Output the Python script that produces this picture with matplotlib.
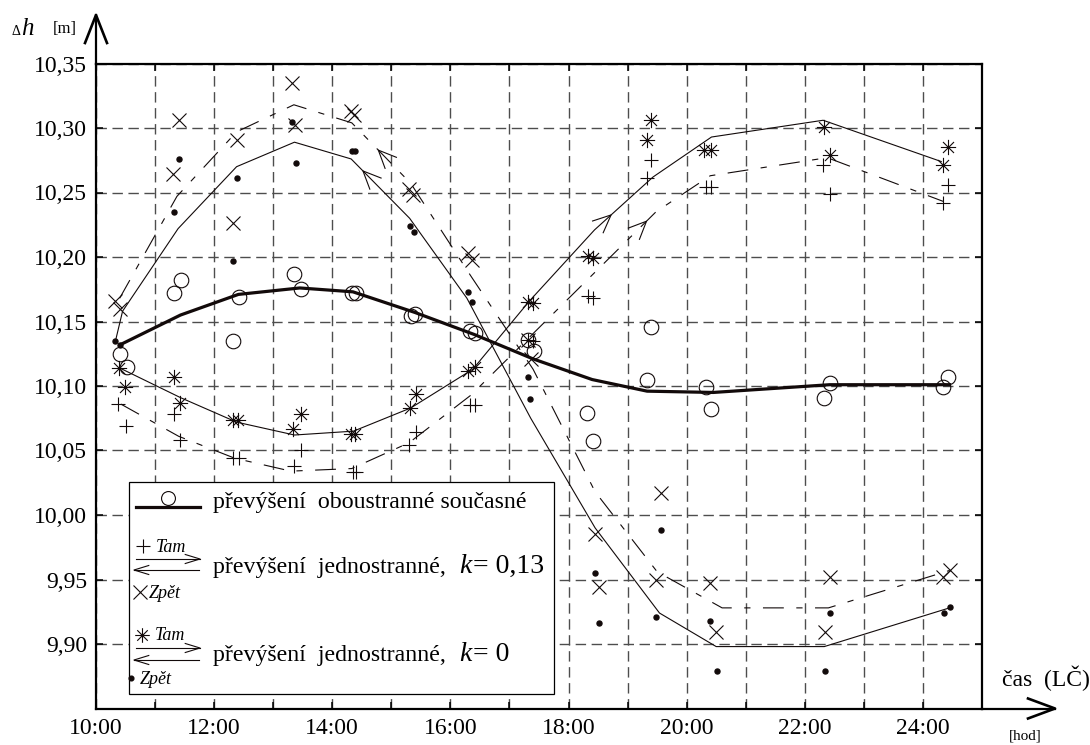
import numpy as np
import matplotlib
matplotlib.use("Agg")
import matplotlib.pyplot as plt
from matplotlib.path import Path
from matplotlib.lines import Line2D
from matplotlib.patches import Rectangle
from matplotlib.transforms import IdentityTransform

plt.rcParams['font.family'] = ['Liberation Serif', 'DejaVu Serif']
plt.rcParams['lines.scale_dashes'] = False

# ---------------- data (time in hours, height difference in m) ----------------
# převýšení oboustranné současné (circles) and its mean line (thick)
circ_t = [10.40, 10.52, 11.32, 11.44, 12.32, 12.42, 13.35, 13.47, 14.33, 14.40,
          15.33, 15.40, 16.33, 16.41, 17.31, 17.41, 18.31, 18.41, 19.32, 19.40,
          20.32, 20.42, 22.32, 22.42, 24.34, 24.42]
circ_v = [10.125, 10.115, 10.172, 10.182, 10.135, 10.169, 10.187, 10.175, 10.172, 10.172,
          10.154, 10.156, 10.143, 10.141, 10.136, 10.127, 10.079, 10.057, 10.105, 10.146,
          10.099, 10.082, 10.091, 10.102, 10.099, 10.107]
mean_t = [10.41, 11.43, 12.41, 13.45, 14.35, 15.40, 16.40, 17.40, 18.40, 19.33, 20.45, 22.42, 24.45]
mean_v = [10.132, 10.155, 10.171, 10.176, 10.173, 10.157, 10.140, 10.121, 10.105, 10.096, 10.095, 10.101, 10.101]

# k = 0.13, Tam (+) and its line
plus_t = [10.38, 10.51, 11.32, 11.43, 12.32, 12.42, 13.35, 13.47, 14.35, 14.41,
          15.30, 15.41, 16.33, 16.41, 17.31, 17.40, 18.33, 18.41, 19.32, 19.40,
          20.33, 20.42, 22.31, 22.42, 24.34, 24.42]
plus_v = [10.086, 10.069, 10.078, 10.058, 10.044, 10.044, 10.038, 10.050, 10.033, 10.033,
          10.054, 10.064, 10.085, 10.085, 10.136, 10.135, 10.170, 10.168, 10.261, 10.275,
          10.254, 10.254, 10.271, 10.249, 10.242, 10.256]
k013_tam_t = [10.42, 11.40, 12.35, 13.30, 14.33, 15.30, 16.35, 19.48, 20.40, 22.38, 24.35]
k013_tam_v = [10.086, 10.061, 10.044, 10.034, 10.036, 10.056, 10.093, 10.235, 10.263, 10.277, 10.243]

# k = 0.13, Zpět (x) and its line
xm_t = [10.33, 10.40, 11.31, 11.41, 12.32, 12.38, 13.31, 13.37, 14.31, 14.37,
        15.30, 15.36, 16.30, 16.36, 17.31, 17.36, 18.44, 18.51, 19.48, 19.57,
        20.39, 20.50, 22.34, 22.42, 24.34, 24.45]
xm_v = [10.166, 10.160, 10.264, 10.306, 10.226, 10.291, 10.335, 10.302, 10.313, 10.310,
        10.253, 10.248, 10.203, 10.198, 10.136, 10.121, 9.985, 9.944, 9.950, 10.017,
        9.947, 9.909, 9.909, 9.952, 9.952, 9.957]
k013_zpet_t = [10.40, 11.37, 12.38, 13.35, 14.33, 15.33, 16.35, 17.40, 18.45, 19.50, 20.60, 22.40, 24.45]
k013_zpet_v = [10.168, 10.247, 10.297, 10.318, 10.304, 10.257, 10.185, 10.113, 10.018, 9.956, 9.928, 9.928, 9.957]

# k = 0, Tam (asterisk) and its line
ast_t = [10.39, 10.49, 11.32, 11.43, 12.32, 12.41, 13.34, 13.47, 14.32, 14.39,
         15.31, 15.41, 16.30, 16.41, 17.31, 17.40, 18.33, 18.41, 19.32, 19.40,
         20.30, 20.42, 22.33, 22.42, 24.34, 24.42]
ast_v = [10.114, 10.099, 10.107, 10.087, 10.074, 10.074, 10.067, 10.078, 10.063, 10.063,
         10.083, 10.094, 10.112, 10.115, 10.165, 10.164, 10.201, 10.199, 10.291, 10.306,
         10.283, 10.283, 10.301, 10.279, 10.271, 10.285]
k0_tam_t = [10.40, 11.43, 12.38, 13.36, 14.36, 15.33, 16.38, 17.34, 18.44, 19.43, 20.42, 22.31, 24.31]
k0_tam_v = [10.114, 10.091, 10.072, 10.062, 10.065, 10.083, 10.113, 10.166, 10.221, 10.262, 10.293, 10.306, 10.274]

# k = 0, Zpět (dot) and its line
dot_t = [10.32, 10.41, 11.32, 11.41, 12.32, 12.38, 13.32, 13.38, 14.33, 14.38,
         15.32, 15.38, 16.30, 16.37, 17.31, 17.35, 18.44, 18.51, 19.48, 19.57,
         20.39, 20.51, 22.34, 22.42, 24.36, 24.45]
dot_v = [10.135, 10.132, 10.235, 10.276, 10.197, 10.261, 10.305, 10.273, 10.282, 10.282,
         10.224, 10.219, 10.173, 10.165, 10.107, 10.090, 9.955, 9.916, 9.921, 9.988,
         9.918, 9.879, 9.879, 9.924, 9.924, 9.929]
k0_zpet_t = [10.33, 10.45, 11.39, 12.38, 13.36, 14.32, 15.31, 16.28, 17.36, 18.45, 19.54, 20.50, 22.33, 24.45]
k0_zpet_v = [10.135, 10.158, 10.222, 10.270, 10.289, 10.276, 10.230, 10.168, 10.075, 9.990, 9.924, 9.898, 9.898, 9.928]

# direction arrows on the lines: (tip time, direction)
arrow_k0_tam = (18.72, 1)
arrow_k013_tam = (19.32, 1)
arrow_k0_zpet = (14.52, -1)
arrow_k013_zpet = (14.78, -1)

xtick_pos = [10, 12, 14, 16, 18, 20, 22, 24]
xtick_lab = ['10:00', '12:00', '14:00', '16:00', '18:00', '20:00', '22:00', '24:00']
xgrid_pos = list(range(10, 26))
ytick_pos = [9.90, 9.95, 10.00, 10.05, 10.10, 10.15, 10.20, 10.25, 10.30, 10.35]
ytick_lab = ['9,90', '9,95', '10,00', '10,05', '10,10', '10,15', '10,20', '10,25', '10,30', '10,35']

# ---------------- figure ----------------
W, H = 1090, 745
fig = plt.figure(figsize=(W / 100, H / 100), dpi=100)
fig.patch.set_facecolor('white')


def fx(px):
    return px / W


def fy(py):
    return 1 - py / H


ax = fig.add_axes([fx(96), fy(708.5), 886 / W, 645 / H])
ax.set_xlim(10, 25)
ax.set_ylim(9.85, 10.35)

ax.set_xticks(xtick_pos)
ax.set_xticklabels(xtick_lab)
ax.set_xticks(xgrid_pos, minor=True)
ax.set_yticks(ytick_pos)
ax.set_yticklabels(ytick_lab)

grid_kw = dict(color='#4d4d4d', lw=1.0, ls=(0, (7.5, 4)))
ax.grid(True, which='both', axis='x', **grid_kw)
ax.grid(True, which='major', axis='y', **grid_kw)
ax.set_axisbelow(True)
ax.tick_params(which='both', direction='in', length=5, width=1.1, top=True, right=True,
               labelsize=17, pad=6.5, colors='black')
for s in ax.spines.values():
    s.set_linewidth(1.6)
    s.set_color('black')

INK = '#120a0a'
thin = 0.8
dash = (0, (15, 9, 4.5, 9))

ax.plot(k0_tam_t, k0_tam_v, color=INK, lw=thin, zorder=2)
ax.plot(k0_zpet_t, k0_zpet_v, color=INK, lw=thin, zorder=2)
ax.plot(k013_tam_t, k013_tam_v, color=INK, lw=thin, ls=dash, zorder=2)
ax.plot(k013_zpet_t, k013_zpet_v, color=INK, lw=thin, ls=dash, zorder=2)
ax.plot(mean_t, mean_v, color=INK, lw=2.3, zorder=3, solid_joinstyle='round')

ast_path = Path([(0, -1), (0, 1), (-0.72, -0.72), (0.72, 0.72), (-0.72, 0.72), (0.72, -0.72),
                 (-1, 0), (1, 0)],
                [Path.MOVETO, Path.LINETO] * 4)

mk = dict(ls='none', color=INK, mfc='none', mec=INK, mew=0.8, zorder=4)
ax.plot(circ_t, circ_v, marker='o', ms=10.5, **mk)
ax.plot(plus_t, plus_v, marker='+', ms=10.5, **mk)
ax.plot(xm_t, xm_v, marker='x', ms=10.5, **mk)
ax.plot(ast_t, ast_v, marker=ast_path, ms=11.0, **mk)
ax.plot(dot_t, dot_v, ls='none', marker='o', ms=3.6, mfc=INK, mec=INK, zorder=4)


def chevron_px(tip, direction, length, half_angle, lw=0.8, z=4):
    """draw open arrow head at tip (display px), pointing along direction"""
    d = np.asarray(direction, float)
    d = d / np.hypot(*d)
    back = -d
    pts = []
    for s in (1, -1):
        a = np.deg2rad(s * half_angle)
        r = np.array([back[0] * np.cos(a) - back[1] * np.sin(a),
                      back[0] * np.sin(a) + back[1] * np.cos(a)])
        pts.append(np.asarray(tip) + length * r)
    fig.add_artist(Line2D([pts[0][0], tip[0], pts[1][0]], [pts[0][1], tip[1], pts[1][1]],
                          transform=IdentityTransform(), color=INK, lw=lw, zorder=z,
                          solid_capstyle='butt'))


def line_arrow(tt, vv, spec):
    t, sgn = spec
    y = np.interp(t, tt, vv)
    t0 = t - 0.08 * sgn
    y0 = np.interp(t0, tt, vv)
    p1 = ax.transData.transform((t, y))
    p0 = ax.transData.transform((t0, y0))
    chevron_px(p1, p1 - p0, 20, 24)


line_arrow(k0_tam_t, k0_tam_v, arrow_k0_tam)
line_arrow(k013_tam_t, k013_tam_v, arrow_k013_tam)
line_arrow(k0_zpet_t, k0_zpet_v, arrow_k0_zpet)
line_arrow(k013_zpet_t, k013_zpet_v, arrow_k013_zpet)

# ---------------- axis arrows and labels ----------------
def P(px, py):
    return np.array([px, H - py], float)

# y axis extension + arrow head
fig.add_artist(Line2D([96, 96], [H - 63.5, H - 15], transform=IdentityTransform(), color='k', lw=1.6))
fig.add_artist(Line2D([85, 96, 107], [H - 43, H - 15, H - 43], transform=IdentityTransform(),
                      color='k', lw=1.9))
# x axis extension + arrow head
fig.add_artist(Line2D([982, 1055], [H - 708.5, H - 708.5], transform=IdentityTransform(), color='k', lw=1.6))
fig.add_artist(Line2D([1028, 1055, 1028], [H - 698.5, H - 708.5, H - 718.5], transform=IdentityTransform(),
                      color='k', lw=1.9))

fig.text(fx(12), fy(35), 'Δ', fontsize=10, va='baseline', ha='left')
fig.text(fx(21), fy(35), 'h', fontsize=18, style='italic', va='baseline', ha='left')
fig.text(fx(53), fy(33), '[m]', fontsize=12, va='baseline', ha='left')
fig.text(fx(1002), fy(686), 'čas  (LČ)', fontsize=17, va='baseline', ha='left')
fig.text(fx(1009), fy(740), '[hod]', fontsize=11, va='baseline', ha='left')

# ---------------- legend (drawn by hand) ----------------
fig.add_artist(Rectangle((fx(129), fy(694)), 425 / W, 212 / H, transform=fig.transFigure,
                         facecolor='white', edgecolor='black', lw=0.9, zorder=5))
ZL = 6
LFS = 17.2
# row 1
fig.add_artist(Line2D([136, 200], [H - 507, H - 507], transform=IdentityTransform(), color=INK, lw=2.3, zorder=ZL))
fig.add_artist(Line2D([168], [H - 498], transform=IdentityTransform(), marker='o', ms=10, mfc='none',
                      mec=INK, mew=0.8, zorder=ZL))
fig.text(fx(213), fy(508), 'převýšení  oboustranné současné', fontsize=LFS, va='baseline', zorder=ZL)


def legend_arrows(py_r, py_l):
    fig.add_artist(Line2D([136, 200], [H - py_r, H - py_r], transform=IdentityTransform(), color=INK,
                          lw=0.8, zorder=ZL))
    chevron_px(P(200, py_r), (1, 0), 16, 17, z=ZL)
    fig.add_artist(Line2D([134, 199], [H - py_l, H - py_l], transform=IdentityTransform(), color=INK,
                          lw=0.8, zorder=ZL))
    chevron_px(P(134, py_l), (-1, 0), 16, 17, z=ZL)


renderer = fig.canvas.get_renderer()


def legend_text(py, knum):
    t = fig.text(fx(213), fy(py), 'převýšení  jednostranné,', fontsize=LFS, va='baseline', zorder=ZL)
    bb = t.get_window_extent(renderer)
    kx = bb.x1 + 13
    tk = fig.text(kx / W, fy(py), 'k', fontsize=20, style='italic', va='baseline', zorder=ZL)
    bbk = tk.get_window_extent(renderer)
    fig.text((bbk.x1 + 2) / W, fy(py), '= ' + knum, fontsize=20, va='baseline', zorder=ZL)


# row 2 (k = 0.13)
fig.add_artist(Line2D([143], [H - 546], transform=IdentityTransform(), marker='+', ms=10, mec=INK,
                      mew=0.8, zorder=ZL))
fig.text(fx(156), fy(552), 'Tam', fontsize=13, style='italic', va='baseline', zorder=ZL)
legend_arrows(559, 570)
fig.add_artist(Line2D([140], [H - 592], transform=IdentityTransform(), marker='x', ms=10, mec=INK,
                      mew=0.8, zorder=ZL))
fig.text(fx(149), fy(598), 'Zpět', fontsize=13, style='italic', va='baseline', zorder=ZL)
legend_text(573, '0,13')

# row 3 (k = 0)
fig.add_artist(Line2D([142], [H - 635], transform=IdentityTransform(), marker=ast_path, ms=10.5, mec=INK,
                      mfc='none', mew=0.8, zorder=ZL))
fig.text(fx(155), fy(640), 'Tam', fontsize=13, style='italic', va='baseline', zorder=ZL)
legend_arrows(648, 660)
fig.add_artist(Line2D([131], [H - 678], transform=IdentityTransform(), marker='o', ms=3.4, mec=INK,
                      mfc=INK, zorder=ZL))
fig.text(fx(140), fy(684), 'Zpět', fontsize=13, style='italic', va='baseline', zorder=ZL)
legend_text(661, '0')

fig.savefig('out.png', dpi=100)
